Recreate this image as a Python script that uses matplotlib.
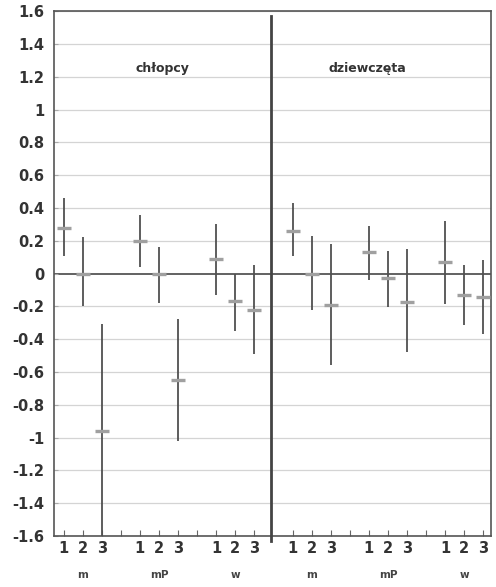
import matplotlib
matplotlib.use("Agg")
import matplotlib.pyplot as plt
import matplotlib.transforms as mtransforms

plt.rcParams['font.family'] = ['DejaVu Sans']

# data
groups = ['m', 'mP', 'w']
levels = ['1', '2', '3']
panels = ['chłopcy', 'dziewczęta']

chl_mean = [0.28, 0.0, -0.96, 0.20, 0.0, -0.65, 0.09, -0.17, -0.22]
chl_low = [0.11, -0.20, -1.6, 0.04, -0.18, -1.02, -0.13, -0.35, -0.49]
chl_high = [0.46, 0.22, -0.31, 0.36, 0.16, -0.28, 0.30, 0.0, 0.05]

dz_mean = [0.26, 0.0, -0.19, 0.13, -0.03, -0.175, 0.07, -0.13, -0.145]
dz_low = [0.11, -0.22, -0.56, -0.04, -0.205, -0.48, -0.185, -0.315, -0.37]
dz_high = [0.43, 0.23, 0.18, 0.29, 0.14, 0.15, 0.32, 0.05, 0.085]

yticks = [1.6, 1.4, 1.2, 1, 0.8, 0.6, 0.4, 0.2, 0, -0.2, -0.4, -0.6, -0.8, -1, -1.2, -1.4, -1.6]

# slot positions: 3 levels per group, one empty slot between groups
left_x = [1, 2, 3, 5, 6, 7, 9, 10, 11]
right_x = [13, 14, 15, 17, 18, 19, 21, 22, 23]
divider = 11.85

fig = plt.figure(figsize=(4.96, 5.87), dpi=100)
ax = fig.add_axes([0.109, 0.087, 0.881, 0.894])

ax.set_xlim(0.5, 23.4)
ax.set_ylim(-1.6, 1.6)

for v in yticks:
    if v == 0:
        continue
    ax.axhline(v, color='#d4d4d4', lw=0.9, zorder=0)
ax.axhline(0, color='#555555', lw=1.3, zorder=1)
ax.axvline(divider, ymin=-0.01, ymax=0.99, color='#444444', lw=2.0, zorder=3, clip_on=False)

for xs, mean, low, high in [(left_x, chl_mean, chl_low, chl_high),
                            (right_x, dz_mean, dz_low, dz_high)]:
    ax.vlines(xs, low, high, color='#505050', lw=1.3, zorder=4)
    ax.plot(xs, mean, ls='none', marker='_', ms=10, mew=2.4, color='#a0a0a0', zorder=5)

ax.text(6.2, 1.25, panels[0], fontsize=9, fontweight='bold', ha='center', va='center', color='#333333')
ax.text(16.9, 1.25, panels[1], fontsize=9, fontweight='bold', ha='center', va='center', color='#333333')

ax.set_yticks(yticks)
ax.set_yticklabels(['%g' % v for v in yticks], fontsize=10.5, fontweight='bold', color='#333333')
ax.tick_params(axis='y', length=3, direction='in', color='#aaaaaa', pad=7)

ticks = [t for t in range(1, 24) if t != 12]
labels = []
for t in ticks:
    if t in left_x or t in right_x:
        labels.append(levels[(left_x + right_x).index(t) % 3])
    else:
        labels.append('')
ax.set_xticks(ticks)
ax.set_xticklabels(labels, fontsize=10.5, fontweight='bold', color='#333333')
ax.tick_params(axis='x', length=4, direction='in', color='#666666', pad=4)

trans = mtransforms.blended_transform_factory(ax.transData, ax.transAxes)
for xs in (left_x, right_x):
    for i, g in enumerate(groups):
        ax.text(xs[3 * i + 1], -0.075, g, transform=trans, fontsize=7.5, fontweight='bold',
                ha='center', va='center', color='#444444')

for s in ax.spines.values():
    s.set_color('#555555')
    s.set_linewidth(1.2)

fig.savefig('out.png', dpi=100, facecolor='white')
